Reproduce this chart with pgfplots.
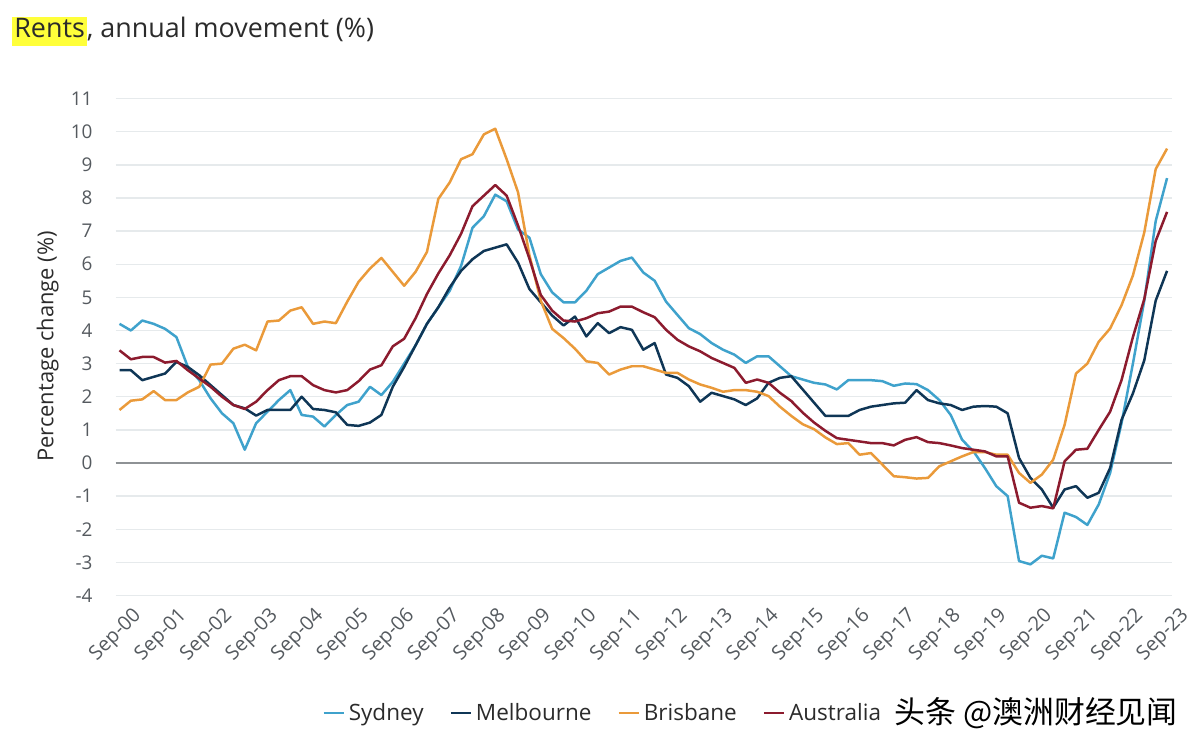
\documentclass[border=0pt]{standalone}
\usepackage{pgfplots}
\usepackage{pgfplotstable}
\pgfplotsset{compat=1.18}
\usepackage{fontspec}
\setmainfont{Open Sans}
\newfontfamily\cjk{Noto Sans CJK SC}

\definecolor{syd}{HTML}{3FA2CC}
\definecolor{mel}{HTML}{0F3656}
\definecolor{bri}{HTML}{EA9A3A}
\definecolor{aus}{HTML}{8C1B2E}
\definecolor{gridc}{HTML}{E6EAEC}
\definecolor{zeroc}{HTML}{8E9295}
\definecolor{tickc}{HTML}{555A5F}
\definecolor{hl}{HTML}{FFFF3A}
\definecolor{titlec}{HTML}{2B2B2B}

% quarterly index: 0 = Sep-00 ... 92 = Sep-23
\pgfplotstableread{
i  syd   mel   bri    aus
0  4.2   2.8   1.6    3.4
1  4.0   2.8   1.88   3.13
2  4.3   2.5   1.92   3.2
3  4.2   2.6   2.17   3.2
4  4.05  2.7   1.9    3.03
5  3.8   3.05  1.9    3.08
6  2.9   2.9   2.13   2.8
7  2.5   2.65  2.3    2.55
8  1.95  2.35  2.97   2.3
9  1.5   2.05  3.0    2.0
10 1.2   1.75  3.45   1.75
11 0.4   1.65  3.57   1.63
12 1.2   1.43  3.4    1.85
13 1.55  1.6   4.27   2.2
14 1.9   1.6   4.3    2.5
15 2.2   1.6   4.6    2.62
16 1.45  2.0   4.7    2.62
17 1.4   1.63  4.2    2.35
18 1.1   1.6   4.27   2.2
19 1.45  1.53  4.22   2.13
20 1.75  1.15  4.87   2.2
21 1.85  1.12  5.47   2.47
22 2.3   1.22  5.87   2.82
23 2.05  1.45  6.19   2.95
24 2.45  2.3   5.77   3.52
25 3.0   2.9   5.35   3.75
26 3.55  3.55  5.77   4.37
27 4.2   4.2   6.37   5.1
28 4.7   4.7   7.97   5.72
29 5.2   5.3   8.47   6.27
30 5.95  5.8   9.17   6.92
31 7.1   6.15  9.32   7.75
32 7.45  6.4   9.92   8.07
33 8.1   6.5   10.09  8.39
34 7.9   6.6   9.17   8.07
35 7.05  6.05  8.17   7.17
36 6.8   5.25  6.27   6.17
37 5.7   4.85  4.9    5.07
38 5.15  4.45  4.05   4.6
39 4.85  4.15  3.77   4.3
40 4.85  4.42  3.45   4.27
41 5.2   3.82  3.07   4.37
42 5.7   4.22  3.02   4.52
43 5.9   3.92  2.67   4.57
44 6.1   4.1   2.82   4.72
45 6.2   4.02  2.92   4.72
46 5.75  3.42  2.92   4.55
47 5.5   3.62  2.82   4.4
48 4.87  2.67  2.72   4.02
49 4.47  2.57  2.72   3.72
50 4.07  2.32  2.52   3.52
51 3.89  1.85  2.37   3.37
52 3.62  2.12  2.27   3.17
53 3.42  2.02  2.15   3.02
54 3.27  1.92  2.2    2.87
55 3.02  1.75  2.2    2.42
56 3.22  1.95  2.15   2.52
57 3.22  2.42  2.02   2.42
58 2.92  2.57  1.7    2.12
59 2.62  2.62  1.42   1.87
60 2.52  2.22  1.17   1.52
61 2.42  1.82  1.02   1.22
62 2.37  1.42  0.77   0.97
63 2.22  1.42  0.57   0.75
64 2.5   1.42  0.6    0.7
65 2.5   1.6   0.25   0.65
66 2.5   1.7   0.3    0.6
67 2.47  1.75  -0.05  0.6
68 2.33  1.8   -0.4   0.53
69 2.4   1.82  -0.43  0.7
70 2.38  2.2   -0.47  0.78
71 2.2   1.9   -0.45  0.63
72 1.9   1.8   -0.1   0.6
73 1.45  1.75  0.05   0.53
74 0.7   1.6   0.2    0.45
75 0.35  1.7   0.33   0.4
76 -0.15 1.72  0.33   0.35
77 -0.7  1.7   0.25   0.2
78 -1.0  1.5   0.25   0.2
79 -2.96 0.15  -0.3   -1.2
80 -3.06 -0.45 -0.6   -1.35
81 -2.8  -0.8  -0.35  -1.3
82 -2.88 -1.35 0.1    -1.37
83 -1.5  -0.8  1.15   0.05
84 -1.63 -0.7  2.7    0.4
85 -1.87 -1.05 3.0    0.43
86 -1.25 -0.9  3.66   1.0
87 -0.3  -0.15 4.06   1.55
88 1.2   1.3   4.76   2.5
89 3.0   2.1   5.66   3.8
90 4.9   3.1   6.96   4.95
91 7.3   4.9   8.87   6.7
92 8.6   5.8   9.49   7.58
}\rents

\begin{document}
\begin{tikzpicture}
\path (0,0) rectangle (601pt,372pt);

% title with highlighted first word
\node[anchor=base west, inner sep=0, text=titlec,
      font=\fontsize{13.5}{16}\selectfont] at (6pt,353pt)
  {\setlength{\fboxsep}{1pt}\colorbox{hl}{\rule[-3pt]{0pt}{11.5pt}Rents}, annual movement (\%)};

\node[rotate=90, text=titlec, font=\fontsize{11}{13}\selectfont] at (24pt,198pt)
  {Percentage change (\%)};

\begin{axis}[
    at={(58pt,73pt)}, anchor=south west,
    scale only axis, width=530.5pt, height=249.5pt,
    xmin=-0.35, xmax=92.44,
    ymin=-4, ymax=11,
    ytick={-4,-3,...,11},
    xtick={0,4,...,92},
    xticklabels={Sep-00,Sep-01,Sep-02,Sep-03,Sep-04,Sep-05,Sep-06,Sep-07,Sep-08,Sep-09,Sep-10,Sep-11,Sep-12,Sep-13,Sep-14,Sep-15,Sep-16,Sep-17,Sep-18,Sep-19,Sep-20,Sep-21,Sep-22,Sep-23},
    axis line style={draw=none},
    major tick length=0pt,
    ymajorgrids=true,
    grid style={gridc, line width=0.7pt},
    /pgf/number format/assume math mode=true,
    tick label style={text=tickc, font=\fontsize{9.5}{11}\selectfont},
    xticklabel style={rotate=45, anchor=north east, xshift=4pt, yshift=-4.5pt,
        font=\fontsize{10}{11}\selectfont},
    yticklabel style={xshift=-8pt},
    legend columns=4,
    legend cell align=left,
    legend style={at={(axis description cs:0.462,-0.2365)}, anchor=center,
        draw=none, fill=none, text=titlec, font=\fontsize{11.3}{13}\selectfont,
        /tikz/every even column/.append style={column sep=11pt}},
    legend image code/.code={\draw[#1, line width=1.3pt] (0pt,0pt) -- (10pt,0pt);},
    every axis plot/.append style={line width=1.25pt, line join=round},
]
\draw[zeroc, line width=0.9pt] (axis cs:-0.35,0) -- (axis cs:92.44,0);
\addplot[syd, mark=none] table[x=i, y=syd] {\rents};
\addplot[mel, mark=none] table[x=i, y=mel] {\rents};
\addplot[bri, mark=none] table[x=i, y=bri] {\rents};
\addplot[aus, mark=none] table[x=i, y=aus] {\rents};
\legend{Sydney, Melbourne, Brisbane, Australia}
\end{axis}

\node[anchor=west, inner sep=0, font=\cjk\fontsize{15.5}{17}\selectfont] at (449pt,14pt)
  {头条 @澳洲财经见闻};
\end{tikzpicture}
\end{document}
